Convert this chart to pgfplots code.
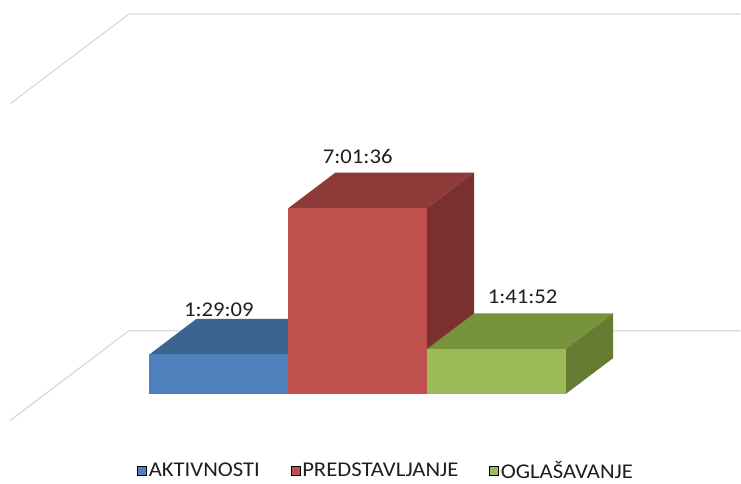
\documentclass[border=0pt]{standalone}
\usepackage{pgfplots}
\pgfplotsset{compat=1.18}
\usepackage{fontspec}
\setmainfont{Carlito}[FakeStretch=1.08]
\definecolor{bfront}{RGB}{79,129,189}
\definecolor{btop}{RGB}{61,99,144}
\definecolor{rfront}{RGB}{192,80,77}
\definecolor{rtop}{RGB}{142,58,56}
\definecolor{rside}{RGB}{122,48,46}
\definecolor{gfront}{RGB}{155,187,89}
\definecolor{gtop}{RGB}{119,147,60}
\definecolor{gside}{RGB}{101,124,50}
\definecolor{gridc}{RGB}{217,217,217}
\definecolor{txt}{RGB}{30,30,30}
\begin{document}
\begin{tikzpicture}
\begin{axis}[
  scale only axis, width=741pt, height=479pt,
  xmin=-2.5755, xmax=2.7554, ymin=-3.2176, ymax=14.9146,
  hide axis, clip=false,
  legend columns=3,
  legend style={at={(axis cs:0.205,-2.915)}, anchor=center, draw=none, fill=none,
    font=\fontsize{21}{25}\selectfont, text=txt,
    nodes={inner xsep=2pt, inner ysep=2pt},
    /tikz/every even column/.append style={column sep=29pt}},
  legend image code/.code={\fill[#1] (0pt,-4.5pt) rectangle (9pt,4.5pt);},
]
\path (rel axis cs:0,0) rectangle (rel axis cs:1,1);
% gridlines (0 and 12:00:00)
\addplot[gridc, line width=1.2pt, no marks, forget plot] coordinates {(-2.5036,-1.0221) (-1.6475,2.3848) (2.7554,2.3848)};
\addplot[gridc, line width=1.2pt, no marks, forget plot] coordinates {(-2.5036,10.9778) (-1.6475,14.3847) (2.7554,14.3847)};
% AKTIVNOSTI 1:29:09
\addplot[fill=btop, draw=none, forget plot] coordinates {(-1.5,1.48583) (-0.5,1.48583) (-0.1619,2.82963) (-1.1619,2.82963)} -- cycle;
\addplot[fill=btop, draw=none, forget plot] coordinates {(-0.5,0) (-0.1619,1.3438) (-0.1619,2.82963) (-0.5,1.48583)} -- cycle;
\addplot[ybar, bar width=1, bar shift=0pt, fill=bfront, draw=none, forget plot] coordinates {(-1,1.48583)};
% PREDSTAVLJANJE 7:01:36
\addplot[fill=rtop, draw=none, forget plot] coordinates {(-0.5,7.02667) (0.5,7.02667) (0.8381,8.37047) (-0.1619,8.37047)} -- cycle;
\addplot[fill=rside, draw=none, forget plot] coordinates {(0.5,0) (0.8381,1.3438) (0.8381,8.37047) (0.5,7.02667)} -- cycle;
\addplot[ybar, bar width=1, bar shift=0pt, fill=rfront, draw=none, forget plot] coordinates {(0,7.02667)};
% OGLASAVANJE 1:41:52
\addplot[fill=gtop, draw=none, forget plot] coordinates {(0.5,1.69778) (1.5,1.69778) (1.8381,3.04158) (0.8381,3.04158)} -- cycle;
\addplot[fill=gside, draw=none, forget plot] coordinates {(1.5,0) (1.8381,1.3438) (1.8381,3.04158) (1.5,1.69778)} -- cycle;
\addplot[ybar, bar width=1, bar shift=0pt, fill=gfront, draw=none, forget plot] coordinates {(1,1.69778)};
% data labels
\node[font=\fontsize{21}{25}\selectfont, text=txt, anchor=center] at (axis cs:-1,3.18) {1:29:09};
\node[font=\fontsize{21}{25}\selectfont, text=txt, anchor=center] at (axis cs:0,8.97) {7:01:36};
\node[font=\fontsize{21}{25}\selectfont, text=txt, anchor=center] at (axis cs:1.187,3.672) {1:41:52};
% legend
\addlegendimage{fill=bfront}
\addlegendentry{AKTIVNOSTI}
\addlegendimage{fill=rfront}
\addlegendentry{PREDSTAVLJANJE}
\addlegendimage{fill=gfront}
\addlegendentry{OGLAŠAVANJE}
\end{axis}
\end{tikzpicture}
\end{document}
